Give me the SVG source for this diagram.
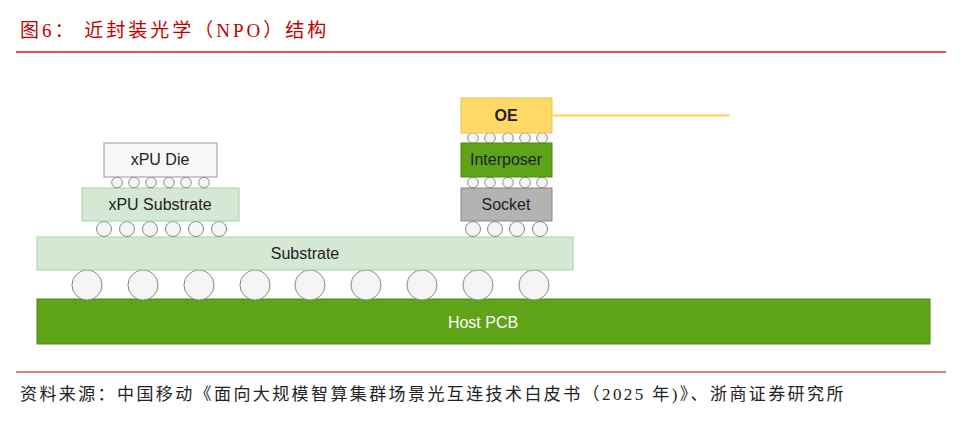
<svg xmlns="http://www.w3.org/2000/svg" width="963" height="435" viewBox="0 0 963 435">
<style>
.t{font-family:"Liberation Sans","Noto Sans",sans-serif;font-size:16px;fill:#222;text-anchor:middle}
.b{fill:#f7f7f7;stroke:#999;stroke-width:1}
.s{fill:#f5f5f5;stroke:#8a8a8a;stroke-width:1}
.cap{font-family:"Liberation Serif","Noto Sans CJK SC",serif}
</style>
<rect width="963" height="435" fill="#fff"/>
<text class="cap" x="20" y="37" font-size="19" fill="#c00000" letter-spacing="3">图6：  近封装光学（NPO）结构</text>
<line x1="16" y1="52" x2="946" y2="52" stroke="#d9534f" stroke-width="2"/>
<g id="pcb"><rect x="37" y="299" width="893" height="45" fill="#5fa319" stroke="#4e8a12"/><text class="t" x="483" y="328" style="fill:#fff">Host PCB</text></g>
<g id="bigballs">
<circle class="s" cx="87" cy="285" r="15"/><circle class="s" cx="143" cy="285" r="15"/><circle class="s" cx="199" cy="285" r="15"/><circle class="s" cx="255" cy="285" r="15"/><circle class="s" cx="310" cy="285" r="15"/><circle class="s" cx="366" cy="285" r="15"/><circle class="s" cx="422" cy="285" r="15"/><circle class="s" cx="478" cy="285" r="15"/><circle class="s" cx="534" cy="285" r="15"/>
</g>
<g id="substrate"><rect x="37" y="237" width="536" height="33" fill="#d5e8d4" stroke="#a9cfa6"/><text class="t" x="305" y="259">Substrate</text></g>
<g id="balls2">
<circle class="s" cx="104" cy="229" r="7.5"/><circle class="s" cx="127" cy="229" r="7.5"/><circle class="s" cx="150" cy="229" r="7.5"/><circle class="s" cx="173" cy="229" r="7.5"/><circle class="s" cx="196" cy="229" r="7.5"/><circle class="s" cx="219" cy="229" r="7.5"/>
<circle class="s" cx="473" cy="229" r="7.5"/><circle class="s" cx="495" cy="229" r="7.5"/><circle class="s" cx="517" cy="229" r="7.5"/><circle class="s" cx="540" cy="229" r="7.5"/>
</g>
<g id="xpusub"><rect x="82" y="188" width="157" height="33" fill="#d5e8d4" stroke="#a9cfa6"/><text class="t" x="160" y="210">xPU Substrate</text></g>
<g id="socket"><rect x="461" y="188" width="91" height="33" fill="#b3b3b3" stroke="#888"/><text class="t" x="506" y="210">Socket</text></g>
<g id="balls3">
<circle class="s" cx="117" cy="182.5" r="5.3"/><circle class="s" cx="134" cy="182.5" r="5.3"/><circle class="s" cx="151" cy="182.5" r="5.3"/><circle class="s" cx="169" cy="182.5" r="5.3"/><circle class="s" cx="186" cy="182.5" r="5.3"/><circle class="s" cx="204" cy="182.5" r="5.3"/>
<circle class="s" cx="473" cy="182.5" r="5.3"/><circle class="s" cx="490" cy="182.5" r="5.3"/><circle class="s" cx="508" cy="182.5" r="5.3"/><circle class="s" cx="525" cy="182.5" r="5.3"/><circle class="s" cx="542" cy="182.5" r="5.3"/>
<circle class="s" cx="473" cy="138" r="5.3"/><circle class="s" cx="490" cy="138" r="5.3"/><circle class="s" cx="508" cy="138" r="5.3"/><circle class="s" cx="525" cy="138" r="5.3"/><circle class="s" cx="542" cy="138" r="5.3"/>
</g>
<g id="xpudie"><rect x="104" y="143" width="113" height="34" class="b"/><text class="t" x="160" y="165">xPU Die</text></g>
<g id="interposer"><rect x="461" y="143" width="91" height="34" fill="#5fa319" stroke="#4e8a12"/><text class="t" x="506" y="165">Interposer</text></g>
<g id="oe"><rect x="461" y="98" width="91" height="35" fill="#ffd966" stroke="#e6c35a"/><text class="t" x="506" y="121" font-weight="bold">OE</text></g>
<g id="connectors"><line x1="552" y1="115.5" x2="730" y2="115.5" stroke="#ffd966" stroke-width="2.5"/></g>
<line x1="16" y1="372" x2="946" y2="372" stroke="#d9534f" stroke-width="1.5"/>
<text class="cap" x="20" y="400" font-size="17" fill="#222" letter-spacing="2.4">资料来源：中国移动《面向大规模智算集群场景光互连技术白皮书（2025 年)》、浙商证券研究所</text>
</svg>
